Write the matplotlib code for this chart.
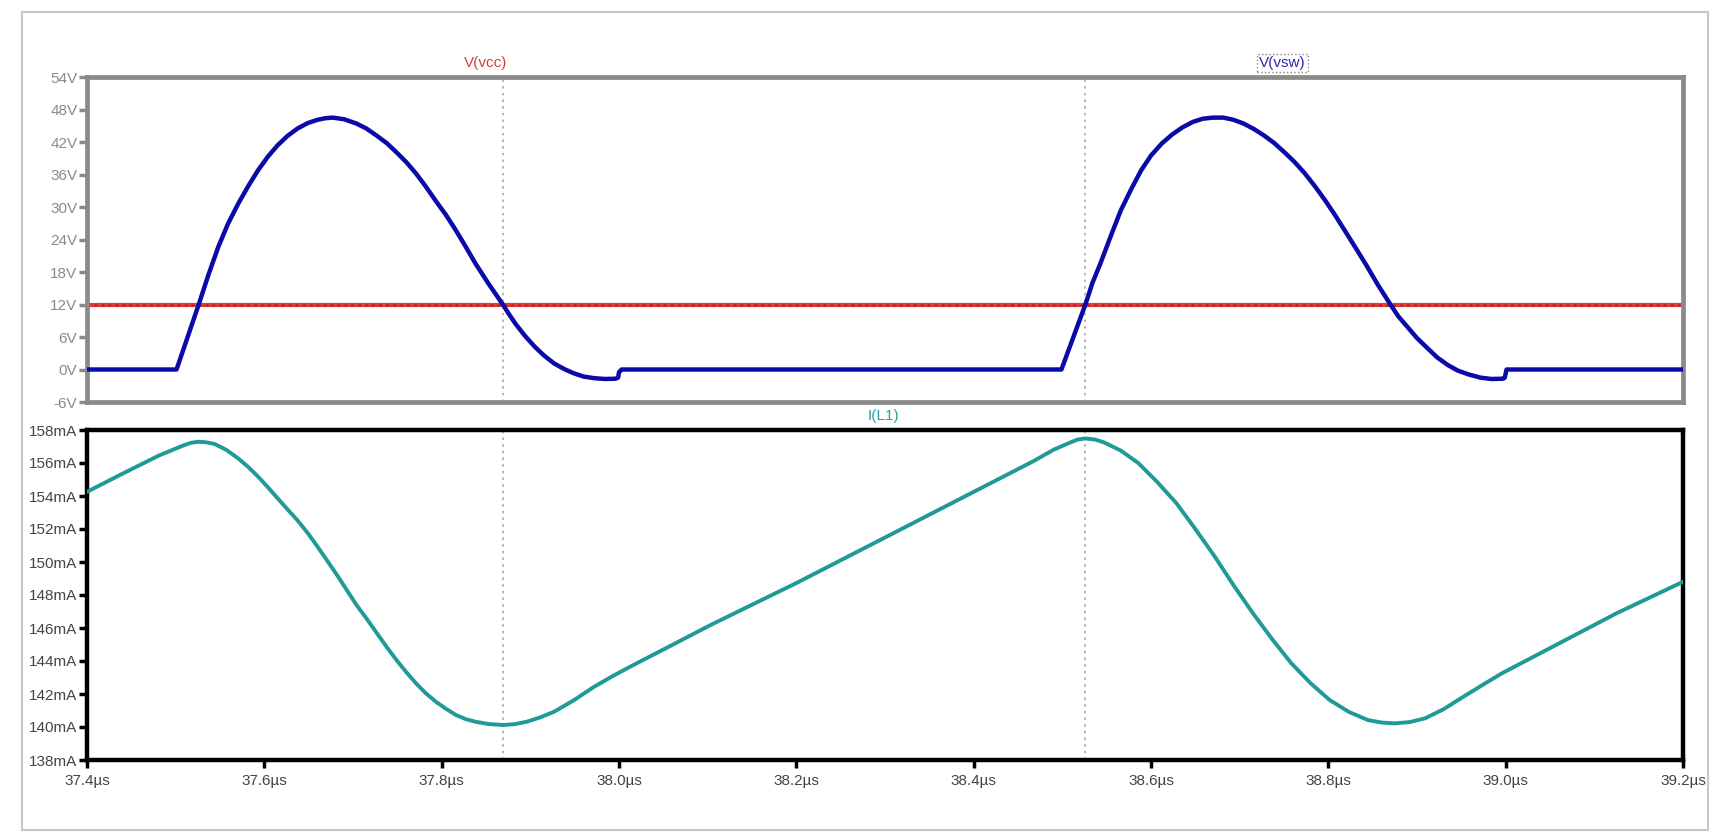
import matplotlib
matplotlib.use('Agg')
import matplotlib.pyplot as plt
from matplotlib.patches import Rectangle
from matplotlib.ticker import FixedLocator, FuncFormatter

plt.rcParams['font.family'] = ['Liberation Sans Narrow', 'Liberation Sans', 'DejaVu Sans']

# V(vsw) switch node voltage (µs, V)
vsw_t = [37.400, 37.501, 37.526, 37.537, 37.548, 37.559, 37.5705, 37.582, 37.593, 37.604,
         37.615, 37.626, 37.6375, 37.649, 37.660, 37.669, 37.677, 37.690, 37.704, 37.715,
         37.7265, 37.738, 37.749, 37.760, 37.771, 37.782, 37.793, 37.805, 37.816, 37.827,
         37.838, 37.853, 37.869, 37.876, 37.883, 37.894, 37.905, 37.916, 37.927, 37.938,
         37.949, 37.960, 37.972, 37.984, 37.996, 37.999, 38.000, 38.003,
         38.499, 38.526, 38.534, 38.543, 38.555, 38.566, 38.578, 38.589, 38.600, 38.612,
         38.624, 38.6355, 38.647, 38.6585, 38.670, 38.6815, 38.693, 38.7045, 38.716, 38.7275,
         38.739, 38.7505, 38.762, 38.7735, 38.785, 38.7965, 38.808, 38.8195, 38.831, 38.8427,
         38.856, 38.870, 38.879, 38.889, 38.900, 38.912, 38.923, 38.935, 38.946, 38.958,
         38.9715, 38.984, 38.997, 38.999, 39.001, 39.200]
vsw_v = [0.0, 0.0, 12.0, 17.5, 22.6, 26.9, 30.6, 33.9, 36.8, 39.3,
         41.4, 43.1, 44.5, 45.5, 46.1, 46.4, 46.5, 46.2, 45.4, 44.5,
         43.2, 41.8, 40.1, 38.3, 36.2, 33.8, 31.2, 28.5, 25.7, 22.7,
         19.6, 15.8, 12.0, 10.2, 8.5, 6.2, 4.2, 2.5, 1.1, 0.1,
         -0.7, -1.3, -1.6, -1.75, -1.7, -1.5, -0.5, 0.0,
         0.0, 12.0, 16.0, 19.6, 24.8, 29.4, 33.4, 36.8, 39.5, 41.7,
         43.4, 44.7, 45.7, 46.3, 46.5, 46.5, 46.1, 45.4, 44.4, 43.2,
         41.8, 40.1, 38.3, 36.2, 33.8, 31.2, 28.4, 25.4, 22.4, 19.3,
         15.6, 12.0, 9.8, 7.9, 5.8, 3.9, 2.2, 0.8, -0.2, -0.9,
         -1.5, -1.75, -1.7, -1.5, 0.0, 0.0]

# V(vcc) supply
vcc_t = [37.4, 39.2]
vcc_v = [12.0, 12.0]

# I(L1) inductor current (µs, mA)
il_t = [37.400, 37.437, 37.481, 37.508, 37.517, 37.526, 37.535, 37.544, 37.557, 37.5705,
        37.582, 37.593, 37.604, 37.615, 37.626, 37.637, 37.649, 37.660, 37.671, 37.682,
        37.693, 37.704, 37.716, 37.727, 37.738, 37.749, 37.760, 37.771, 37.782, 37.7935,
        37.805, 37.816, 37.827, 37.838, 37.853, 37.869, 37.882, 37.896, 37.911, 37.927,
        37.949, 37.972, 37.994, 38.016, 38.061, 38.104, 38.201, 38.306, 38.400, 38.467,
        38.490, 38.507, 38.517, 38.526, 38.537, 38.547, 38.566, 38.5856, 38.607, 38.6287,
        38.650, 38.6719, 38.693, 38.715, 38.737, 38.7583, 38.780, 38.8014, 38.823, 38.8446,
        38.860, 38.8748, 38.892, 38.9093, 38.930, 38.9525, 38.974, 38.9956, 39.0603, 39.125,
        39.200]
il_ma = [154.25, 155.27, 156.45, 157.05, 157.22, 157.29, 157.25, 157.15, 156.80, 156.28,
         155.75, 155.17, 154.53, 153.86, 153.20, 152.55, 151.75, 150.93, 150.07, 149.21,
         148.30, 147.39, 146.52, 145.68, 144.85, 144.06, 143.33, 142.65, 142.05, 141.53,
         141.10, 140.73, 140.48, 140.32, 140.18, 140.12, 140.17, 140.32, 140.58, 140.93,
         141.62, 142.44, 143.12, 143.75, 145.00, 146.20, 148.75, 151.65, 154.25, 156.10,
         156.80, 157.20, 157.42, 157.49, 157.42, 157.25, 156.75, 156.00, 154.85, 153.56,
         152.00, 150.33, 148.60, 146.89, 145.30, 143.86, 142.65, 141.64, 140.92, 140.42,
         140.27, 140.22, 140.30, 140.53, 141.08, 141.84, 142.55, 143.25, 145.07, 146.89,
         148.80]

cursors = [37.869, 38.526]
x_ticks = [37.4, 37.6, 37.8, 38.0, 38.2, 38.4, 38.6, 38.8, 39.0, 39.2]
v_ticks = [-6, 0, 6, 12, 18, 24, 30, 36, 42, 48, 54]
i_ticks = [138, 140, 142, 144, 146, 148, 150, 152, 154, 156, 158]

W, H = 1725, 840
fig = plt.figure(figsize=(W / 100, H / 100), dpi=100)
fig.patch.set_facecolor('white')

# outer light border
fig.add_artist(Rectangle((22 / W, 10 / H), 1686 / W, 818 / H, transform=fig.transFigure,
                         fill=False, ec='#c8c8c8', lw=1.5))

ax1 = fig.add_axes([87 / W, 1 - 402 / H, 1596 / W, 325 / H])
ax2 = fig.add_axes([87 / W, 1 - 760 / H, 1596 / W, 330 / H])

# top pane
ax1.plot(vcc_t, vcc_v, color='#e03a3a', lw=3.0, solid_capstyle='butt', zorder=2)
ax1.plot(vcc_t, vcc_v, color='#9a1818', lw=1.0, ls=(0, (2, 3)), zorder=2.1)
ax1.plot(vsw_t, vsw_v, color='#0a0aa8', lw=3.2, zorder=3, solid_joinstyle='round')
ax1.set_xlim(37.4, 39.2)
ax1.set_ylim(-6, 54)
ax1.yaxis.set_major_locator(FixedLocator(v_ticks))
ax1.yaxis.set_major_formatter(FuncFormatter(lambda v, p: '%dV' % v))
ax1.set_xticks([])
ax1.tick_params(axis='y', length=6, width=2.5, color='#8a8a8a', labelcolor='#8a8a8a',
                labelsize=11, pad=1)
for s in ax1.spines.values():
    s.set_color('#8a8a8a')
    s.set_linewidth(3.4)

# bottom pane
ax2.plot(il_t, il_ma, color='#1f9a96', lw=2.8, zorder=3, solid_joinstyle='round')
ax2.set_xlim(37.4, 39.2)
ax2.set_ylim(138, 158)
ax2.yaxis.set_major_locator(FixedLocator(i_ticks))
ax2.yaxis.set_major_formatter(FuncFormatter(lambda v, p: '%dmA' % v))
ax2.xaxis.set_major_locator(FixedLocator(x_ticks))
ax2.xaxis.set_major_formatter(FuncFormatter(lambda v, p: '%.1f\u00b5s' % v))
ax2.tick_params(axis='both', length=6, width=2.5, color='black', labelcolor='#444444',
                labelsize=11, pad=1)
ax2.tick_params(axis='x', pad=4)
for s in ax2.spines.values():
    s.set_color('black')
    s.set_linewidth(3.2)

for ax in (ax1, ax2):
    for c in cursors:
        ax.axvline(c, color='#a8a8a8', lw=1.2, ls=(0, (1.5, 2.5)), zorder=1)

# trace names
ax1.annotate('V(vcc)', xy=(37.85, 1), xycoords=('data', 'axes fraction'),
             xytext=(0, 5), textcoords='offset points', ha='center', va='bottom',
             color='#d04040', fontsize=11)
ax1.annotate('V(vsw)', xy=(38.748, 1), xycoords=('data', 'axes fraction'),
             xytext=(0, 5), textcoords='offset points', ha='center', va='bottom',
             color='#2a2ab0', fontsize=11,
             bbox=dict(boxstyle='square,pad=0.15', fc='none', ec='#888888', ls=':', lw=1))
ax2.annotate('I(L1)', xy=(38.298, 1), xycoords=('data', 'axes fraction'),
             xytext=(0, 5), textcoords='offset points', ha='center', va='bottom',
             color='#2aa0a0', fontsize=11)

fig.savefig('out.png', dpi=100, facecolor='white')
